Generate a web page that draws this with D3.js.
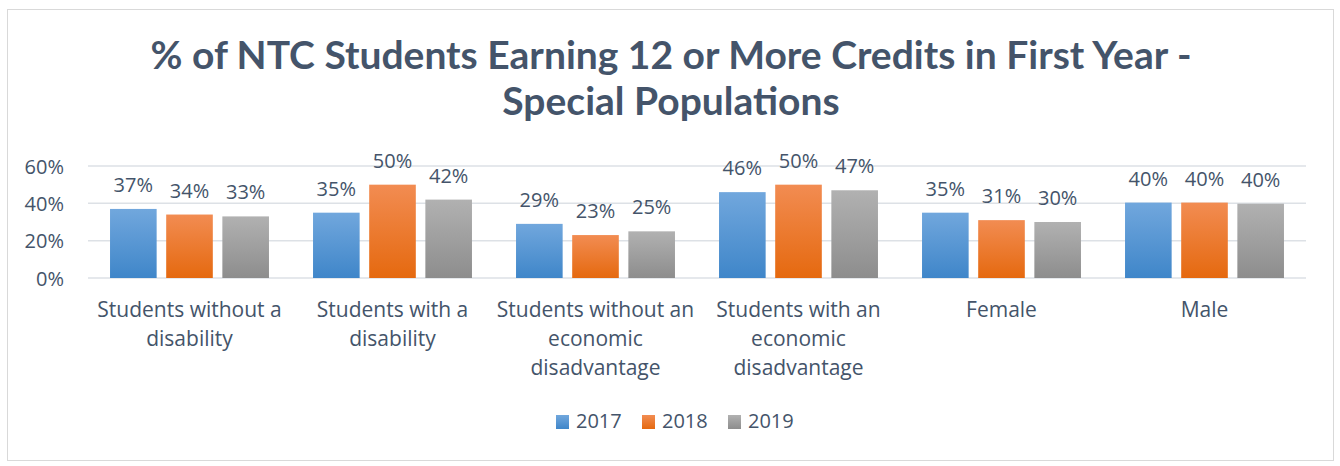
<!DOCTYPE html>
<html><head><meta charset="utf-8">
<script src="https://cdn.jsdelivr.net/npm/d3@7"></script>
<style>body{margin:0;background:#fff;} text{font-family:"Open Sans", Lato, sans-serif;}</style>
</head><body>
<svg id="c" width="1340" height="466"></svg>
<script>
const titleLines = ["% of NTC Students Earning 12 or More Credits in First Year -", "Special Populations"];
const categories = ["Students without a disability", "Students with a disability", "Students without an economic disadvantage", "Students with an economic disadvantage", "Female", "Male"];
const seriesNames = ["2017", "2018", "2019"];
const values2017 = [0.37, 0.35, 0.29, 0.46, 0.35, 0.404];
const values2018 = [0.34, 0.50, 0.23, 0.50, 0.31, 0.404];
const values2019 = [0.33, 0.42, 0.25, 0.47, 0.30, 0.398];
const yTicks = [0, 0.2, 0.4, 0.6];

const seriesValues = [values2017, values2018, values2019];
const colors = [["#71a7dd", "#3f86c9"], ["#f28c52", "#e5690f"], ["#b1b1b1", "#8d8d8d"]];
const textColor = "#44546a";

const svg = d3.select("#c");
const defs = svg.append("defs");
colors.forEach((c, i) => {
  const g = defs.append("linearGradient").attr("id", "g" + i).attr("x1", 0).attr("y1", 0).attr("x2", 0).attr("y2", 1);
  g.append("stop").attr("offset", "0%").attr("stop-color", c[0]);
  g.append("stop").attr("offset", "100%").attr("stop-color", c[1]);
});

svg.append("rect").attr("x", 7.5).attr("y", 9.5).attr("width", 1326).attr("height", 451)
  .attr("fill", "#fff").attr("stroke", "#d9d9d9").attr("stroke-width", 1);

svg.append("g").selectAll("text").data(titleLines).join("text")
  .attr("x", 671).attr("y", (d, i) => 69 + i * 46)
  .attr("text-anchor", "middle").attr("fill", textColor)
  .style("font-family", "Lato")
  .attr("font-size", 39).attr("font-weight", 700).text(d => d);

const x0 = d3.scaleBand().domain(categories).range([88, 1306]).paddingInner(0.217).paddingOuter(0.1085);
const x1 = d3.scaleBand().domain(seriesNames).range([0, x0.bandwidth()]).paddingInner(0.17);
const y = d3.scaleLinear().domain([0, 0.6]).range([278, 166]);

svg.append("g").selectAll("line").data(yTicks).join("line")
  .attr("x1", 88).attr("x2", 1306).attr("y1", d => y(d)).attr("y2", d => y(d))
  .attr("stroke", "#dde1e6").attr("stroke-width", 1.5);

const yAxis = d3.axisLeft(y).tickValues(yTicks).tickFormat(d3.format(".0%")).tickSize(0).tickPadding(0);
const ya = svg.append("g").attr("transform", "translate(64,0)").call(yAxis);
ya.select(".domain").remove();
ya.selectAll("text").attr("fill", textColor).attr("font-size", 20).style("font-family", "Open Sans").attr("dy", "0.35em");

const groups = svg.append("g").selectAll("g").data(categories).join("g")
  .attr("transform", d => `translate(${x0(d)},0)`);
groups.each(function(cat, ci) {
  const g = d3.select(this);
  seriesNames.forEach((s, si) => {
    const v = seriesValues[si][ci];
    g.append("rect").attr("x", x1(s)).attr("width", x1.bandwidth())
      .attr("y", y(v)).attr("height", y(0) - y(v)).attr("fill", `url(#g${si})`);
    g.append("text").attr("x", x1(s) + x1.bandwidth() / 2).attr("y", y(v) - 17)
      .attr("text-anchor", "middle").attr("fill", textColor).attr("font-size", 20)
      .text(d3.format(".0%")(v));
  });
});

// category labels with wrapping
const maxW = 205;
const catG = svg.append("g");
categories.forEach(cat => {
  const words = cat.split(" ");
  const t = catG.append("text").attr("text-anchor", "middle").attr("fill", textColor).attr("font-size", 21);
  const lines = [];
  let cur = [];
  words.forEach(w => {
    const test = cur.concat([w]).join(" ");
    t.text(test);
    if (t.node().getComputedTextLength() > maxW && cur.length) { lines.push(cur.join(" ")); cur = [w]; }
    else cur.push(w);
  });
  lines.push(cur.join(" "));
  t.text(null);
  const cx = x0(cat) + x0.bandwidth() / 2;
  lines.forEach((l, i) => t.append("tspan").attr("x", cx).attr("y", 317 + i * 29).text(l));
});

const leg = svg.append("g");
const legX = [556, 642, 728];
seriesNames.forEach((s, i) => {
  leg.append("rect").attr("x", legX[i]).attr("y", 415).attr("width", 13).attr("height", 14).attr("fill", `url(#g${i})`);
  leg.append("text").attr("x", legX[i] + 20).attr("y", 428).attr("fill", textColor).attr("font-size", 20).text(s);
});
</script>
</body></html>
